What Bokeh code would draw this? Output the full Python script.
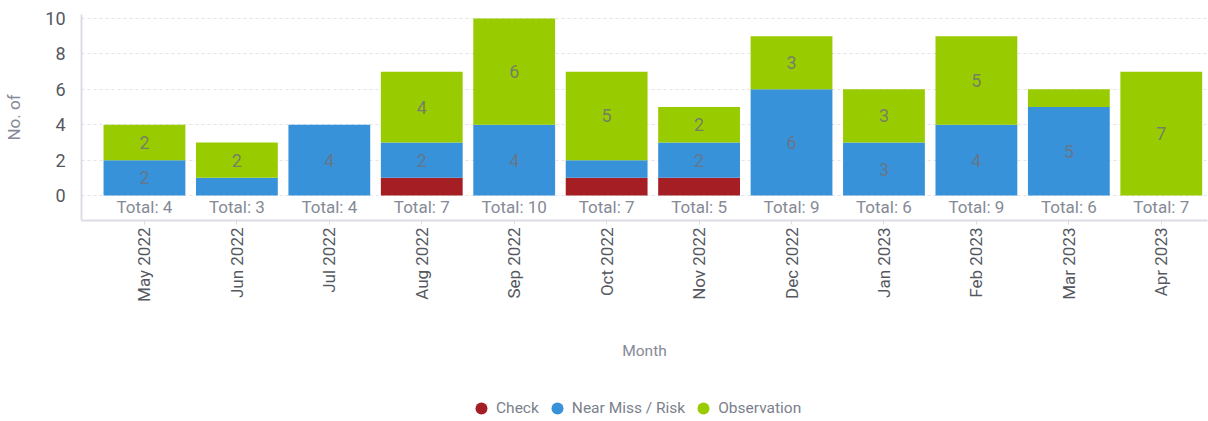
import math

from bokeh.plotting import figure
from bokeh.layouts import column
from bokeh.models import ColumnDataSource, FixedTicker, Legend, LegendItem, Range1d
from bokeh.core.properties import value
from bokeh.embed import file_html
from bokeh.resources import INLINE

months = ["May 2022", "Jun 2022", "Jul 2022", "Aug 2022", "Sep 2022", "Oct 2022",
          "Nov 2022", "Dec 2022", "Jan 2023", "Feb 2023", "Mar 2023", "Apr 2023"]
check = [0, 0, 0, 1, 0, 1, 1, 0, 0, 0, 0, 0]
near_miss = [2, 1, 4, 2, 4, 1, 2, 6, 3, 4, 5, 0]
observation = [2, 2, 0, 4, 6, 5, 2, 3, 3, 5, 1, 7]
y_ticks = [0, 2, 4, 6, 8, 10]

series = ["Check", "Near Miss / Risk", "Observation"]
colors = ["#a41e24", "#3792d9", "#99cc00"]
FONT = "Roboto"

xs = list(range(len(months)))
totals = [c + n + o for c, n, o in zip(check, near_miss, observation)]

p = figure(width=1208, height=377, output_backend="svg", toolbar_location=None,
           x_range=Range1d(-0.681, 11.5), y_range=Range1d(-1.41, 10.23),
           min_border_left=81, min_border_right=1, min_border_top=14,
           min_border_bottom=157, outline_line_color=None)

# stacked bars
bottom = [0] * len(months)
label_x, label_y, label_t = [], [], []
for name, vals, col in zip(series, [check, near_miss, observation], colors):
    top = [b + v for b, v in zip(bottom, vals)]
    src = ColumnDataSource(dict(x=xs, bottom=bottom, top=top))
    p.vbar(x="x", bottom="bottom", top="top", width=0.885, source=src,
           fill_color=col, line_color=None)
    for i, v in enumerate(vals):
        if v >= 2:
            label_x.append(i)
            label_y.append(bottom[i] + v / 2)
            label_t.append(str(v))
    bottom = top

p.text(x=label_x, y=label_y, text=label_t, text_font=value(FONT),
       text_font_size="18px", text_color="#6e7179", text_alpha=0.85,
       text_align="center", text_baseline="middle")

# totals under each bar
p.text(x=xs, y=[0] * len(xs), text=[f"Total: {t}" for t in totals],
       text_font=value(FONT), text_font_size="17px", text_color="#868a96",
       text_align="center", text_baseline="top", y_offset=1)

# axes
p.xaxis.ticker = FixedTicker(ticks=xs)
p.xaxis.major_label_overrides = {i: m for i, m in enumerate(months)}
p.xaxis.major_label_orientation = math.pi / 2
p.xaxis.major_label_text_font = FONT
p.xaxis.major_label_text_font_size = "17px"
p.xaxis.major_label_text_color = "#55585f"
p.xaxis.major_label_standoff = 3
p.xaxis.major_tick_in = 0
p.xaxis.major_tick_out = 4
p.xaxis.major_tick_line_color = "#dcdce6"
p.xaxis.minor_tick_line_color = None
p.xaxis.axis_line_color = "#dcdce6"
p.xaxis.axis_line_width = 2
p.xaxis.axis_label = "Month"
p.xaxis.axis_label_text_font = FONT
p.xaxis.axis_label_text_font_style = "normal"
p.xaxis.axis_label_text_font_size = "15.5px"
p.xaxis.axis_label_text_color = "#868a96"
p.xaxis.axis_label_standoff = 37

p.yaxis.ticker = FixedTicker(ticks=y_ticks)
p.yaxis.major_label_text_font = FONT
p.yaxis.major_label_text_font_size = "18px"
p.yaxis.major_label_text_color = "#55585f"
p.yaxis.major_label_standoff = 10
p.yaxis.major_tick_line_color = None
p.yaxis.minor_tick_line_color = None
p.yaxis.axis_line_color = "#dcdce6"
p.yaxis.axis_line_width = 2
p.yaxis.axis_label = "No. of"
p.yaxis.axis_label_text_font = FONT
p.yaxis.axis_label_text_font_style = "normal"
p.yaxis.axis_label_text_font_size = "17px"
p.yaxis.axis_label_text_color = "#868a96"
p.yaxis.axis_label_standoff = 18

p.xgrid.grid_line_color = None
p.ygrid.grid_line_color = "#e3e3e8"
p.ygrid.grid_line_dash = "3 3"
p.ygrid.ticker = FixedTicker(ticks=y_ticks)

# legend strip beneath the chart
leg = figure(width=1208, height=44, output_backend="svg", toolbar_location=None,
             x_range=Range1d(0, 1), y_range=Range1d(0, 1),
             min_border=0, outline_line_color=None,
             x_axis_location=None, y_axis_location=None)
leg.grid.grid_line_color = None
items = []
for name, col in zip(series, colors):
    d = leg.scatter(x=[-10], y=[-10], marker="circle", size=12, fill_color=col,
                    line_color=None)
    items.append(LegendItem(label=name, renderers=[d]))
legend = Legend(items=items, orientation="horizontal", location=(385, -2),
                label_text_font=FONT, label_text_font_size="15.5px",
                label_text_color="#7b7f8c", glyph_width=30, glyph_height=30,
                label_standoff=-9, spacing=3, border_line_color=None,
                background_fill_alpha=0, margin=0, padding=0)
leg.add_layout(legend, "center")

open("out.html", "w").write(file_html(column(p, leg, spacing=0), INLINE))
